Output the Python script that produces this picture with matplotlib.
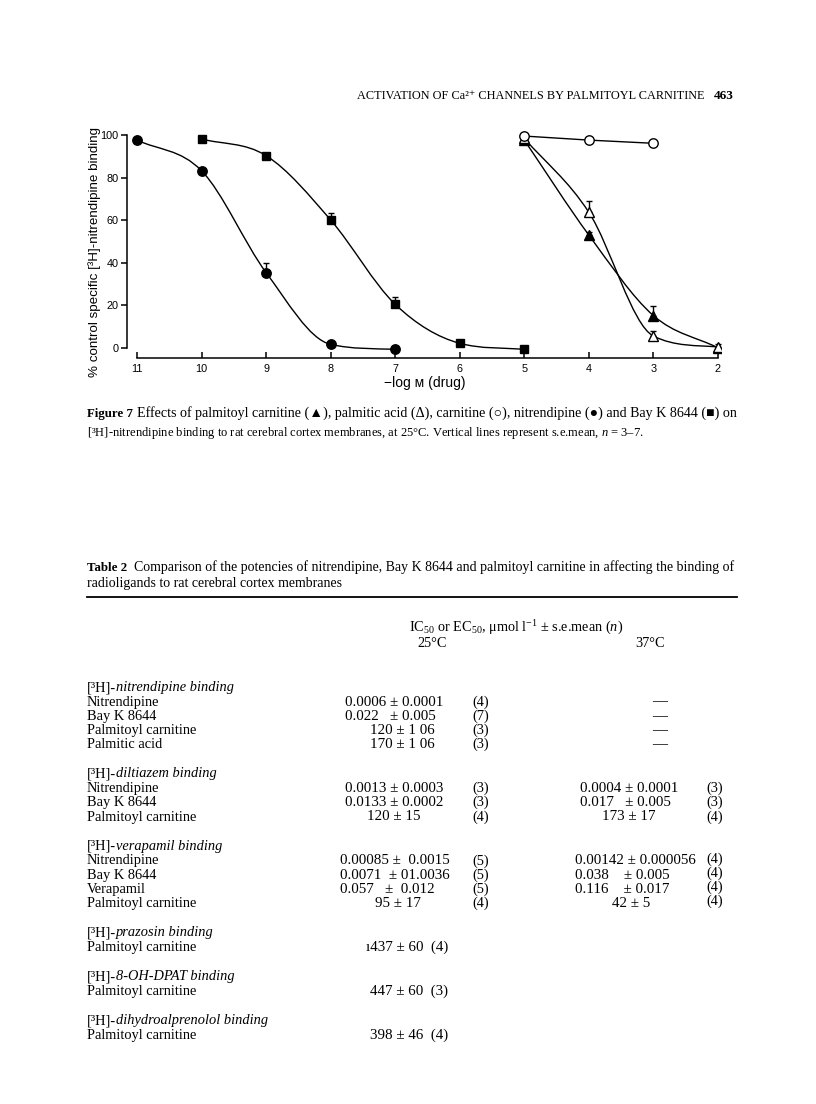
import numpy as np
import matplotlib
matplotlib.use("Agg")
import matplotlib.pyplot as plt
from matplotlib.path import Path
from matplotlib.patches import PathPatch

# === Figure 7 data: -log M (drug) vs % control specific binding ===
x_nit = [11, 10, 9, 8, 7]
y_nit = [97.6, 83.2, 35.4, 1.7, -0.6]
e_nit = [0, 0, 4.6, 0, 0]

x_bay = [10, 9, 8, 7, 6, 5]
y_bay = [98.1, 90.3, 60.1, 20.5, 2.2, -0.6]
e_bay = [0, 0, 3.4, 3.5, 0, 0]

x_carn = [5, 4, 3]
y_carn = [99.5, 97.6, 96.1]

x_pacid = [5, 4, 3, 2]
y_pacid = [98.4, 63.7, 5.6, 0.5]
e_pacid = [0, 5.5, 2.5, 0]

x_pcarn = [5, 4, 3, 2]
y_pcarn = [97.6, 53.0, 15.2, 0.1]
e_pcarn = [0, 1.5, 4.5, 2.0]

x_ticks = [11, 10, 9, 8, 7, 6, 5, 4, 3, 2]
y_ticks = [0, 20, 40, 60, 80, 100]

# === Table 2 ===
sections = ["nitrendipine binding", "diltiazem binding", "verapamil binding",
            "prazosin binding", "8-OH-DPAT binding", "dihydroalprenolol binding"]
drugs = [["Nitrendipine", "Bay K 8644", "Palmitoyl carnitine", "Palmitic acid"],
         ["Nitrendipine", "Bay K 8644", "Palmitoyl carnitine"],
         ["Nitrendipine", "Bay K 8644", "Verapamil", "Palmitoyl carnitine"],
         ["Palmitoyl carnitine"],
         ["Palmitoyl carnitine"],
         ["Palmitoyl carnitine"]]
val25 = [["0.0006 ± 0.0001", "0.022   ± 0.005", "120 ± 1 06", "170 ± 1 06"],
         ["0.0013 ± 0.0003", "0.0133 ± 0.0002", "120 ± 15"],
         ["0.00085 ±  0.0015", "0.0071  ± 01.0036", "0.057   ±  0.012", "95 ± 17"],
         ["ı437 ± 60  (4)"],
         ["447 ± 60  (3)"],
         ["398 ± 46  (4)"]]
n25 = [["(4)", "(7)", "(3)", "(3)"],
       ["(3)", "(3)", "(4)"],
       ["(5)", "(5)", "(5)", "(4)"],
       [""], [""], [""]]
val37 = [["—", "—", "—", "—"],
         ["0.0004 ± 0.0001", "0.017   ± 0.005", "173 ± 17"],
         ["0.00142 ± 0.000056", "0.038    ± 0.005", "0.116    ± 0.017", "42 ± 5"],
         [""], [""], [""]]
n37 = [["", "", "", ""],
       ["(3)", "(3)", "(4)"],
       ["(4)", "(4)", "(4)", "(4)"],
       [""], [""], [""]]

# 排版位置 (pixel)
x25 = [[345, 345, 370, 370], [345, 345, 367], [340, 340, 340, 375], [366], [370], [370]]
x37 = [[652, 652, 652, 652], [580, 580, 602], [575, 575, 575, 612], [0], [0], [0]]

W, H = 816, 1104
SERIF = ["Liberation Serif", "DejaVu Serif"]
SANS = ["Liberation Sans", "DejaVu Sans"]
plt.rcParams["mathtext.fontset"] = "custom"
plt.rcParams["mathtext.rm"] = "Liberation Serif"
plt.rcParams["mathtext.it"] = "Liberation Serif:italic"
plt.rcParams["mathtext.bf"] = "Liberation Serif:bold"

fig = plt.figure(figsize=(W / 100, H / 100), dpi=100)
fig.patch.set_facecolor("white")
renderer = fig.canvas.get_renderer()


def P(x, y):
    return x / W, 1 - y / H


def fit(t, x0, x1):
    # 調整字級讓文字寬度吻合原稿
    w = t.get_window_extent(renderer).width
    t.set_fontsize(t.get_fontsize() * (x1 - x0) / w)
    return t


def run(x, y, parts, size):
    # 連續排文字 (不同字型)
    for s, kw in parts:
        t = fig.text(*P(x, y), s, fontsize=size, va="baseline", **kw)
        x += t.get_window_extent(renderer).width


def smooth_path(xs, ys):
    x = np.asarray(xs, float)
    y = np.asarray(ys, float)
    n = len(x)
    d = np.diff(y) / np.diff(x)
    m = np.empty(n)
    m[0], m[-1] = d[0], d[-1]
    m[1:-1] = (y[2:] - y[:-2]) / (x[2:] - x[:-2])
    for k in range(n - 1):
        if d[k] == 0:
            m[k] = m[k + 1] = 0
            continue
        a, b = m[k] / d[k], m[k + 1] / d[k]
        if a * a + b * b > 9:
            t = 3 / np.hypot(a, b)
            m[k], m[k + 1] = t * a * d[k], t * b * d[k]
    verts = [(x[0], y[0])]
    codes = [Path.MOVETO]
    for k in range(n - 1):
        h = x[k + 1] - x[k]
        verts += [(x[k] + h / 3, y[k] + m[k] * h / 3),
                  (x[k + 1] - h / 3, y[k + 1] - m[k + 1] * h / 3),
                  (x[k + 1], y[k + 1])]
        codes += [Path.CURVE4] * 3
    return Path(verts, codes)


# === 圖 ===
ax = fig.add_axes([127 / W, 1 - 358 / H, 594.2 / W, 229.4 / H])
ax.set_xlim(11.155, 1.95)
ax.set_ylim(-4.7, 103)
for s in ["top", "right"]:
    ax.spines[s].set_visible(False)
ax.spines["left"].set_bounds(0, 100)
ax.spines["bottom"].set_bounds(2, 11)
for s in ["left", "bottom"]:
    ax.spines[s].set_linewidth(1.1)
ax.set_xticks(x_ticks)
ax.set_xticklabels([str(v) for v in x_ticks])
ax.set_yticks(y_ticks)
ax.tick_params(axis="x", direction="in", length=4, width=1.1, labelsize=7.8, pad=4)
ax.tick_params(axis="y", direction="out", length=4, width=1.1, labelsize=7.8, pad=2)
for lab in ax.get_xticklabels() + ax.get_yticklabels():
    lab.set_fontfamily(SANS)

for xs, ys in [(x_nit, y_nit), (x_bay, y_bay), (x_pacid, y_pacid), (x_pcarn, y_pcarn)]:
    ax.add_patch(PathPatch(smooth_path(xs, ys), fill=False, lw=1.0, ec="black"))
ax.plot(x_carn, y_carn, color="black", lw=1.0)

for xs, ys, es in [(x_nit, y_nit, e_nit), (x_bay, y_bay, e_bay),
                   (x_pacid, y_pacid, e_pacid), (x_pcarn, y_pcarn, e_pcarn)]:
    xe = [a for a, e in zip(xs, es) if e > 0]
    ye = [b for b, e in zip(ys, es) if e > 0]
    ee = [e for e in es if e > 0]
    ax.errorbar(xe, ye, yerr=[np.zeros(len(ee)), ee], fmt="none", ecolor="black",
                elinewidth=1.0, capsize=2.5, capthick=1.0)

ax.plot(x_nit, y_nit, "o", color="black", ms=6.8, ls="none")
ax.plot(x_bay, y_bay, "s", color="black", ms=6.0, ls="none")
ax.plot(x_pcarn, y_pcarn, "^", color="black", ms=6.5, ls="none")
ax.plot(x_pacid, y_pacid, "^", mfc="white", mec="black", mew=1.0, ms=7, ls="none")
ax.plot(x_carn, y_carn, "o", mfc="white", mec="black", mew=1.0, ms=6.8, ls="none")

fig.text(*P(95, 252), "% control specific [³H]-nitrendipine binding", rotation=90,
         ha="center", va="center", fontsize=9.6, family=SANS)
fig.text(*P(425, 383), "−log ᴍ (drug)", ha="center", va="center", fontsize=10, family=SANS)

# === 頁首 ===
fit(fig.text(*P(357, 99), "ACTIVATION OF Ca²⁺ CHANNELS BY PALMITOYL CARNITINE",
             fontsize=9, family=SERIF, va="baseline"), 357, 705)
fig.text(*P(714, 99), "463", fontsize=9.5, family=SERIF, weight="bold", va="baseline")

# === 圖說 ===
CAP = ["Liberation Serif", "DejaVu Sans"]
fig.text(*P(87, 417), "Figure 7", fontsize=9.3, family=SERIF, weight="bold", va="baseline")
fit(fig.text(*P(137, 417), "Effects of palmitoyl carnitine (▲), palmitic acid (Δ), carnitine (○), "
             "nitrendipine (●) and Bay K 8644 (■) on", fontsize=9.3, family=CAP,
             va="baseline"), 137, 733)
fig.text(*P(87, 436), "[³H]-nitrendipine binding to rat cerebral cortex membranes, at 25°C. "
         "Vertical lines represent s.e.mean, $\\mathit{n}$ = 3–7.",
         fontsize=9.0, family=SERIF, va="baseline")

# === 表 ===
fig.text(*P(87, 571), "Table 2", fontsize=9.3, family=SERIF, weight="bold", va="baseline")
fit(fig.text(*P(134, 571), "Comparison of the potencies of nitrendipine, Bay K 8644 and palmitoyl "
             "carnitine in affecting the binding of", fontsize=9.3, family=SERIF,
             va="baseline"), 134, 733)
fig.text(*P(87, 587), "radioligands to rat cerebral cortex membranes", fontsize=10.0,
         family=SERIF, va="baseline")
fig.add_artist(plt.Line2D([87 / W, 737 / W], [1 - 597 / H, 1 - 597 / H], color="black", lw=1.3))

fig.text(*P(516, 632), "IC$_{50}$ or EC$_{50}$, μmol l$^{-1}$ ± s.e.mean ($\\mathit{n}$)",
         fontsize=10.3, family=SERIF, va="baseline", ha="center")
fig.text(*P(432, 647), "25°C", fontsize=10.3, family=SERIF, va="baseline", ha="center")
fig.text(*P(650, 647), "37°C", fontsize=10.3, family=SERIF, va="baseline", ha="center")

TS = 10.4
VS = 10.8
y = 691
for i, sec in enumerate(sections):
    run(87, y, [("[³H]-", dict(family=SERIF)), (sec, dict(family=SERIF, style="italic"))], TS)
    for j, drug in enumerate(drugs[i]):
        yr = y + 14.6 + 14.2 * j
        fig.text(*P(87, yr), drug, fontsize=TS, family=SERIF, va="baseline")
        fig.text(*P(x25[i][j], yr), val25[i][j], fontsize=VS, family=SERIF, va="baseline")
        if n25[i][j]:
            fig.text(*P(472, yr), n25[i][j], fontsize=TS, family=SERIF, va="baseline")
        if val37[i][j]:
            fig.text(*P(x37[i][j], yr), val37[i][j], fontsize=VS, family=SERIF, va="baseline")
        if n37[i][j]:
            fig.text(*P(706, yr - (2 if i == 2 else 0)), n37[i][j], fontsize=TS,
                     family=SERIF, va="baseline")
    y = yr + 29.3

fig.savefig("out.png", dpi=100)
